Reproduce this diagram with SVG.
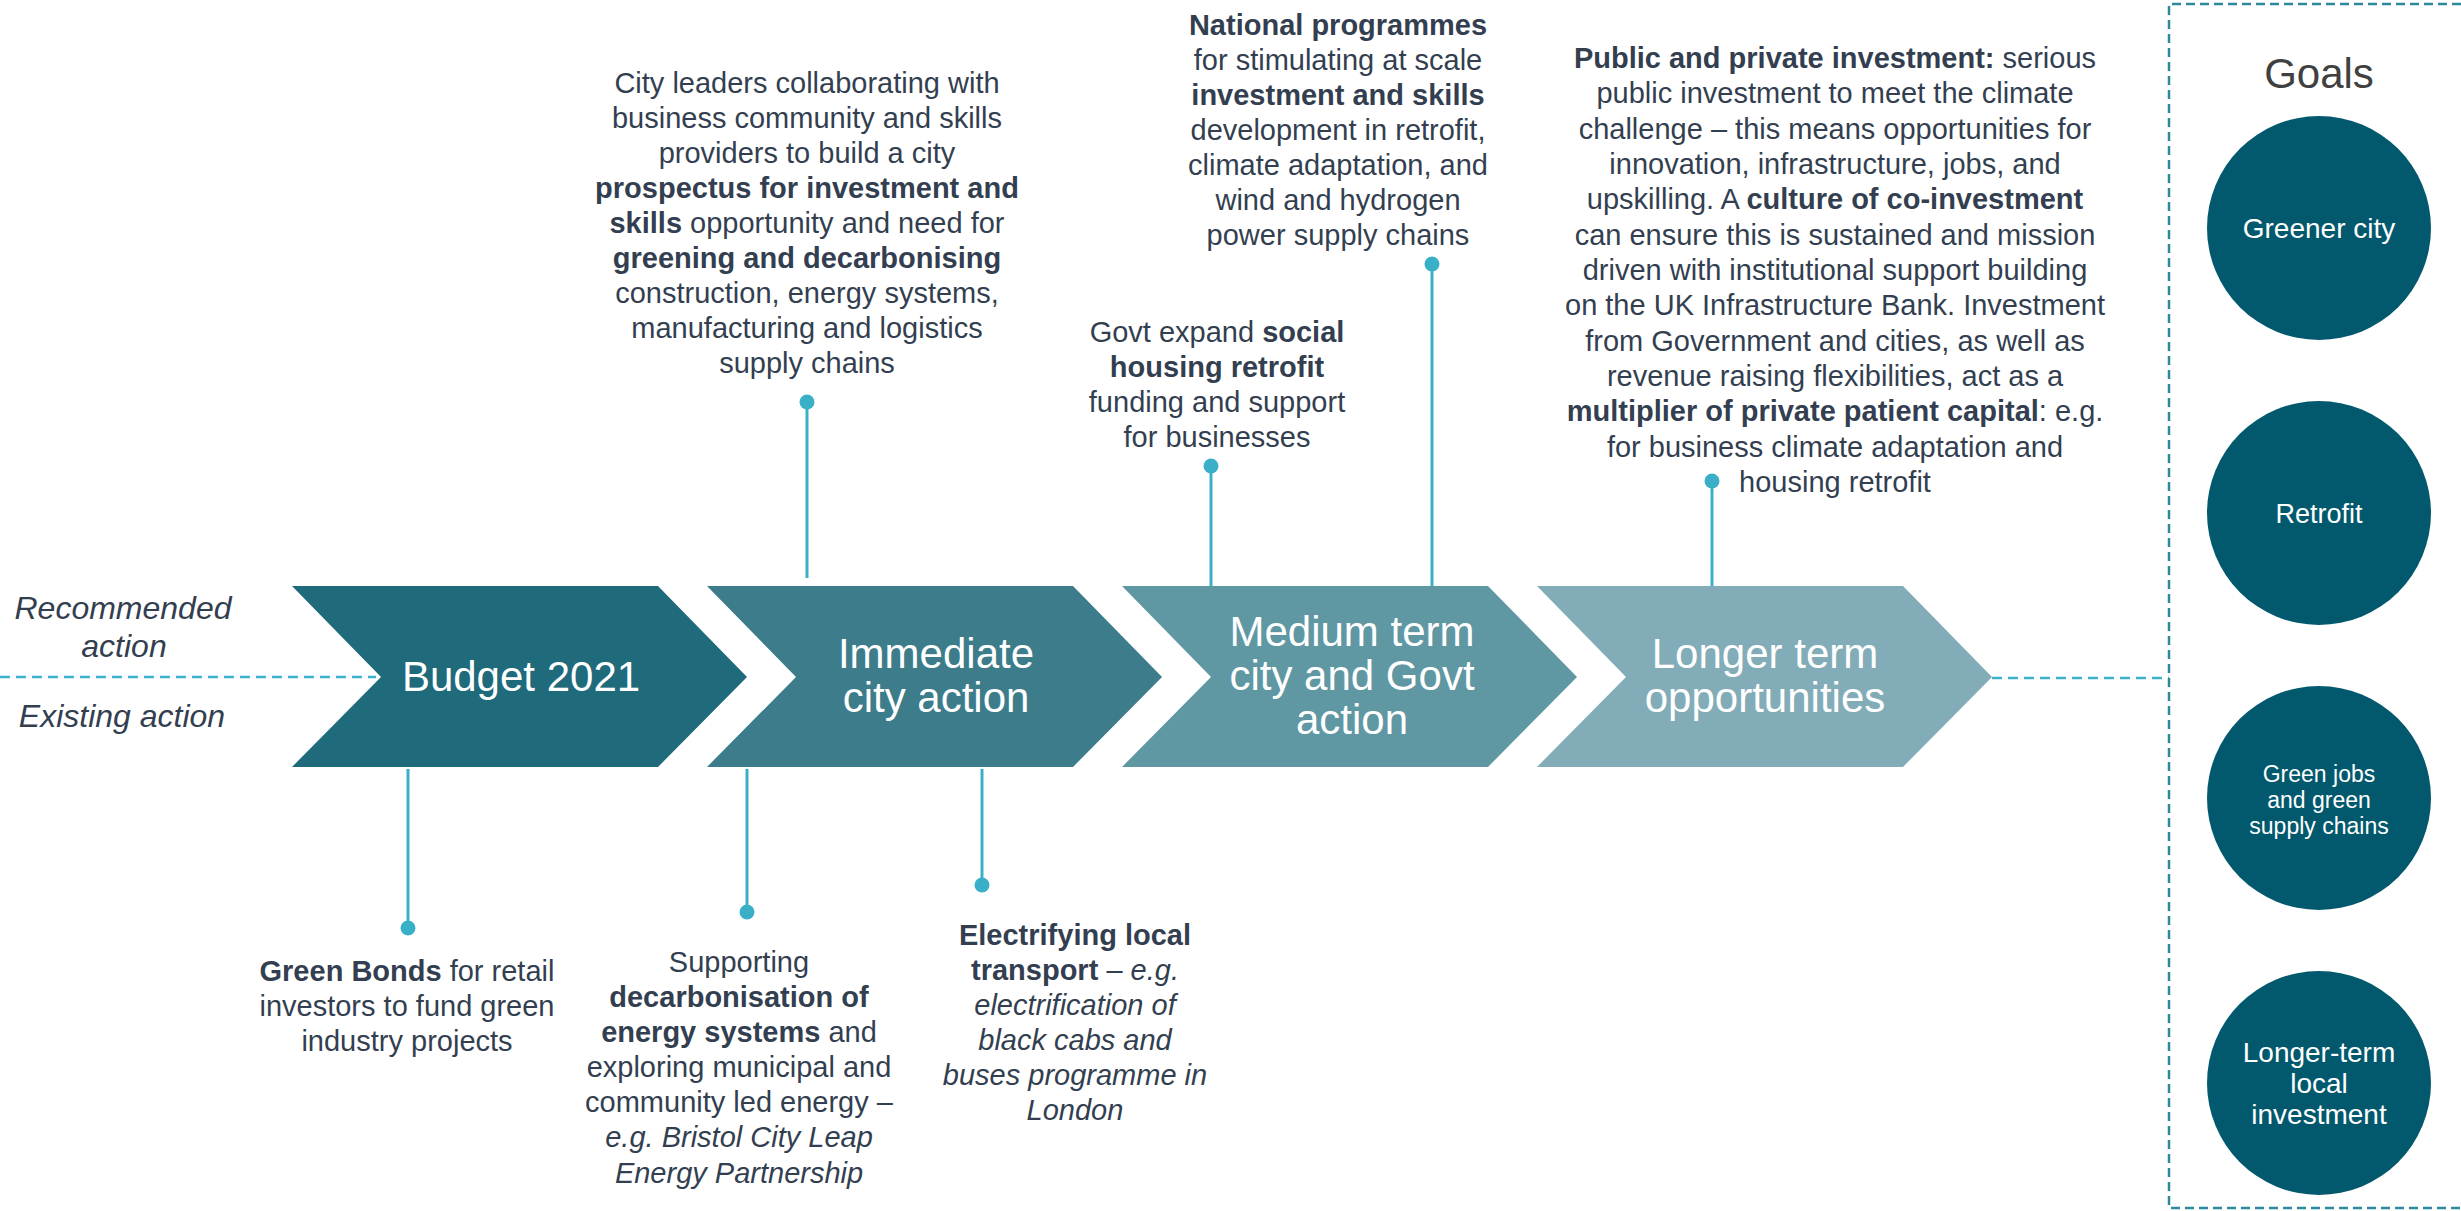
<svg xmlns="http://www.w3.org/2000/svg" width="2461" height="1211" viewBox="0 0 2461 1211">
<style>
.t{font-family:"Liberation Sans",Arial,sans-serif;font-size:29px;fill:#333F50;text-anchor:middle}
.b{font-weight:bold}
.i{font-style:italic}
.lab{font-family:"Liberation Sans",Arial,sans-serif;font-size:32px;fill:#333F50;text-anchor:middle;font-style:italic}
.ch{font-family:"Liberation Sans",Arial,sans-serif;font-size:42px;fill:#FFFFFF;text-anchor:middle}
.gc{font-family:"Liberation Sans",Arial,sans-serif;font-size:28px;fill:#FFFFFF;text-anchor:middle}
.goal{fill:#02596D}
.conn{stroke:#3AB0C8;stroke-width:3;fill:none}
.dot{fill:#3AB0C8}
.dash{stroke:#3DB3CB;stroke-width:2.5;stroke-dasharray:10 6;fill:none}
.box{stroke:#2D8A9C;stroke-width:2.5;stroke-dasharray:9 5;fill:none}
</style>
<rect width="2461" height="1211" fill="#FFFFFF"/>

<g id="legend">
<text class="lab" x="123" y="619">Recommended</text>
<text class="lab" x="124" y="657">action</text>
<text class="lab" x="122" y="727">Existing action</text>
</g>

<g id="connectors">
<line class="dash" x1="0" y1="677" x2="376" y2="677"/>
<line class="dash" x1="1992" y1="678" x2="2169" y2="678"/>
<line class="conn" x1="807" y1="402" x2="807" y2="578"/>
<circle class="dot" cx="807" cy="402" r="7.5"/>
<line class="conn" x1="1211" y1="466" x2="1211" y2="586"/>
<circle class="dot" cx="1211" cy="466" r="7.5"/>
<line class="conn" x1="1432" y1="264" x2="1432" y2="586"/>
<circle class="dot" cx="1432" cy="264" r="7.5"/>
<line class="conn" x1="1712" y1="481" x2="1712" y2="586"/>
<circle class="dot" cx="1712" cy="481" r="7.5"/>
<line class="conn" x1="408" y1="769" x2="408" y2="928"/>
<circle class="dot" cx="408" cy="928" r="7.5"/>
<line class="conn" x1="747" y1="769" x2="747" y2="912"/>
<circle class="dot" cx="747" cy="912" r="7.5"/>
<line class="conn" x1="982" y1="769" x2="982" y2="885"/>
<circle class="dot" cx="982" cy="885" r="7.5"/>
</g>

<g id="budget-2021">
<polygon points="292,586 658,586 747,677 658,767 292,767 381,677" fill="#1F6A7B"/>
<text class="ch" x="521" y="691">Budget 2021</text>
</g>
<g id="immediate-city-action">
<polygon points="707,586 1073,586 1162,677 1073,767 707,767 796,677" fill="#3C7C8B"/>
<text class="ch" x="936" y="668">Immediate</text>
<text class="ch" x="936" y="712">city action</text>
</g>
<g id="medium-term">
<polygon points="1122,586 1488,586 1577,677 1488,767 1122,767 1211,677" fill="#5F97A3"/>
<text class="ch" x="1352" y="646">Medium term</text>
<text class="ch" x="1352" y="690">city and Govt</text>
<text class="ch" x="1352" y="734">action</text>
</g>
<g id="longer-term">
<polygon points="1537,586 1903,586 1992,677 1903,767 1537,767 1626,677" fill="#82ACB7"/>
<text class="ch" x="1765" y="668">Longer term</text>
<text class="ch" x="1765" y="712">opportunities</text>
</g>

<g id="city-leaders">
<text class="t" x="807" y="93">City leaders collaborating with</text>
<text class="t" x="807" y="128">business community and skills</text>
<text class="t" x="807" y="163">providers to build a city</text>
<text class="t b" x="807" y="198">prospectus for investment and</text>
<text class="t" x="807" y="233"><tspan class="b">skills</tspan> opportunity and need for</text>
<text class="t b" x="807" y="268">greening and decarbonising</text>
<text class="t" x="807" y="303">construction, energy systems,</text>
<text class="t" x="807" y="338">manufacturing and logistics</text>
<text class="t" x="807" y="373">supply chains</text>
</g>

<g id="national-programmes">
<text class="t b" x="1338" y="35">National programmes</text>
<text class="t" x="1338" y="70">for stimulating at scale</text>
<text class="t b" x="1338" y="105">investment and skills</text>
<text class="t" x="1338" y="140">development in retrofit,</text>
<text class="t" x="1338" y="175">climate adaptation, and</text>
<text class="t" x="1338" y="210">wind and hydrogen</text>
<text class="t" x="1338" y="245">power supply chains</text>
</g>

<g id="social-housing">
<text class="t" x="1217" y="342">Govt expand <tspan class="b">social</tspan></text>
<text class="t b" x="1217" y="377">housing retrofit</text>
<text class="t" x="1217" y="412">funding and support</text>
<text class="t" x="1217" y="447">for businesses</text>
</g>

<g id="public-private">
<text class="t" x="1835" y="68"><tspan class="b">Public and private investment:</tspan> serious</text>
<text class="t" x="1835" y="103">public investment to meet the climate</text>
<text class="t" x="1835" y="139">challenge – this means opportunities for</text>
<text class="t" x="1835" y="174">innovation, infrastructure, jobs, and</text>
<text class="t" x="1835" y="209">upskilling. A <tspan class="b">culture of co-investment</tspan></text>
<text class="t" x="1835" y="245">can ensure this is sustained and mission</text>
<text class="t" x="1835" y="280">driven with institutional support building</text>
<text class="t" x="1835" y="315">on the UK Infrastructure Bank. Investment</text>
<text class="t" x="1835" y="351">from Government and cities, as well as</text>
<text class="t" x="1835" y="386">revenue raising flexibilities, act as a</text>
<text class="t" x="1835" y="421"><tspan class="b">multiplier of private patient capital</tspan>: e.g.</text>
<text class="t" x="1835" y="457">for business climate adaptation and</text>
<text class="t" x="1835" y="492">housing retrofit</text>
</g>

<g id="green-bonds">
<text class="t" x="407" y="981"><tspan class="b">Green Bonds</tspan> for retail</text>
<text class="t" x="407" y="1016">investors to fund green</text>
<text class="t" x="407" y="1051">industry projects</text>
</g>

<g id="decarbonisation">
<text class="t" x="739" y="972">Supporting</text>
<text class="t b" x="739" y="1007">decarbonisation of</text>
<text class="t" x="739" y="1042"><tspan class="b">energy systems</tspan> and</text>
<text class="t" x="739" y="1077">exploring municipal and</text>
<text class="t" x="739" y="1112">community led energy –</text>
<text class="t i" x="739" y="1147">e.g. Bristol City Leap</text>
<text class="t i" x="739" y="1183">Energy Partnership</text>
</g>

<g id="electrifying">
<text class="t b" x="1075" y="945">Electrifying local</text>
<text class="t" x="1075" y="980"><tspan class="b">transport</tspan> – <tspan class="i">e.g.</tspan></text>
<text class="t i" x="1075" y="1015">electrification of</text>
<text class="t i" x="1075" y="1050">black cabs and</text>
<text class="t i" x="1075" y="1085">buses programme in</text>
<text class="t i" x="1075" y="1120">London</text>
</g>

<g id="goals">
<path class="box" d="M2475,4 H2169 V1208 H2475"/>
<text x="2319" y="88" style="font-family:'Liberation Sans',Arial,sans-serif;font-size:42px;fill:#404040;text-anchor:middle">Goals</text>
</g>
<g id="goal-greener-city">
<circle class="goal" cx="2319" cy="228" r="112"/>
<text class="gc" x="2319" y="238">Greener city</text>
</g>
<g id="goal-retrofit">
<circle class="goal" cx="2319" cy="513" r="112"/>
<text class="gc" x="2319" y="523" style="font-size:27px">Retrofit</text>
</g>
<g id="goal-green-jobs">
<circle class="goal" cx="2319" cy="798" r="112"/>
<text class="gc" x="2319" y="782" style="font-size:23px">Green jobs</text>
<text class="gc" x="2319" y="808" style="font-size:23px">and green</text>
<text class="gc" x="2319" y="834" style="font-size:23px">supply chains</text>
</g>
<g id="goal-longer-term">
<circle class="goal" cx="2319" cy="1083" r="112"/>
<text class="gc" x="2319" y="1062">Longer-term</text>
<text class="gc" x="2319" y="1093">local</text>
<text class="gc" x="2319" y="1124">investment</text>
</g>
</svg>
